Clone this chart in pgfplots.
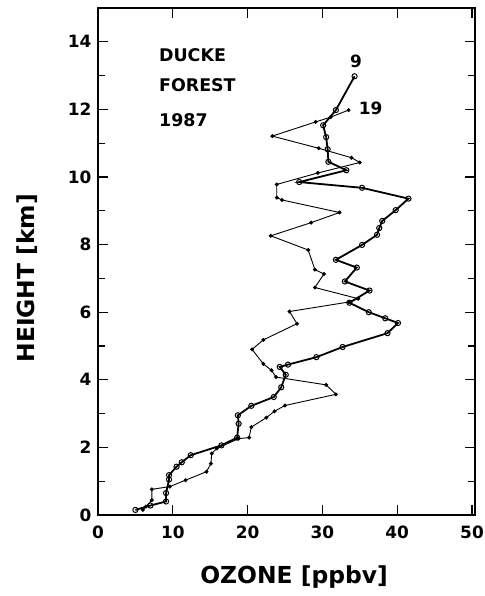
\documentclass[border=0pt]{standalone}
\usepackage{fontspec}
\setmainfont{DejaVu Sans}
\usepackage{pgfplots}
\pgfplotsset{compat=1.18}
\begin{document}
\begin{tikzpicture}
\useasboundingbox (-98bp,-81bp) rectangle (387bp,515bp);
\begin{axis}[
  scale only axis,
  width=377bp, height=507bp,
  xmin=0, xmax=50.4, ymin=0, ymax=15,
  xtick={0,10,20,30,40,50},
  ytick={0,2,4,6,8,10,12,14},
  minor ytick={1,3,5,7,9,11,13},
  tick align=inside,
  major tick length=10bp, minor tick length=7bp,
  axis line style={line width=1.2bp},
  every tick/.style={line width=1.1bp, black},
  /pgf/number format/assume math mode=true,
  ticklabel style={font=\fontsize{17}{17}\selectfont\bfseries},
  xticklabel style={yshift=-7bp},
  yticklabel style={xshift=-3bp},
  xlabel={OZONE [ppbv]},
  ylabel={HEIGHT [km]},
  label style={font=\fontsize{23.5}{23.5}\selectfont\bfseries},
  xlabel style={at={(axis description cs:0.52,0)}, anchor=center, yshift=-62bp},
  ylabel style={at={(axis description cs:0,0.467)}, anchor=center, yshift=71bp},
]
% profile 9 (open circles)
\addplot[black, line width=1.8bp, mark=o, mark size=2.6bp, mark options={line width=1bp, fill=white}] coordinates {
(5.0,0.15) (7.0,0.28) (9.1,0.40) (9.1,0.65) (9.5,1.05) (9.5,1.18) (10.5,1.43) (11.2,1.56)
(12.4,1.77) (16.5,2.06) (18.6,2.29) (18.8,2.70) (18.7,2.95) (20.5,3.23) (23.5,3.49)
(24.5,3.78) (25.1,4.15) (24.3,4.38) (25.4,4.45) (29.2,4.67) (32.7,4.97) (38.7,5.38)
(40.1,5.68) (38.4,5.82) (36.2,6.00) (33.6,6.28) (36.3,6.64) (33.0,6.91) (34.6,7.32)
(31.8,7.55) (35.3,7.99) (37.3,8.29) (37.6,8.49) (38.0,8.70) (39.8,9.02) (41.5,9.36)
(35.3,9.68) (26.9,9.85) (33.2,10.20) (30.8,10.45) (30.7,10.82) (30.5,11.18) (30.1,11.53)
(31.8,11.98) (34.3,12.98)
};
% profile 19 (filled dots)
\addplot[black, line width=0.9bp, mark=*, mark size=1.5bp] coordinates {
(6.0,0.15) (6.4,0.25) (7.2,0.44) (7.2,0.76) (9.6,0.84) (11.7,1.03) (14.5,1.28) (15.1,1.52)
(15.2,1.82) (15.9,1.97) (18.8,2.26) (20.2,2.29) (20.5,2.60) (22.5,2.88) (23.6,3.07)
(25.0,3.24) (31.8,3.57) (30.5,3.85) (23.8,4.08) (23.2,4.28) (22.1,4.47) (20.6,4.90)
(22.1,5.18) (26.6,5.66) (25.6,6.02) (33.5,6.30) (34.8,6.40) (29.0,6.73) (30.2,7.13)
(29.0,7.26) (28.1,7.84) (23.1,8.26) (28.5,8.65) (32.3,8.95) (24.6,9.32) (23.9,9.39)
(23.9,9.78) (29.4,10.12) (35.0,10.43) (33.9,10.57) (29.5,10.85) (23.3,11.21) (29.1,11.63)
(31.1,11.77) (33.5,11.98)
};
\node[font=\fontsize{17}{17}\selectfont\bfseries] at (axis cs:34.5,13.42) {9};
\node[font=\fontsize{17}{17}\selectfont\bfseries, anchor=west] at (axis cs:34.4,12.03) {19};
\node[font=\fontsize{17.5}{17.5}\selectfont\bfseries, anchor=west] at (axis cs:7.7,13.6) {DUCKE};
\node[font=\fontsize{17.5}{17.5}\selectfont\bfseries, anchor=west] at (axis cs:7.7,12.72) {FOREST};
\node[font=\fontsize{17.5}{17.5}\selectfont\bfseries, anchor=west] at (axis cs:7.7,11.68) {1987};
\end{axis}
\end{tikzpicture}
\end{document}
